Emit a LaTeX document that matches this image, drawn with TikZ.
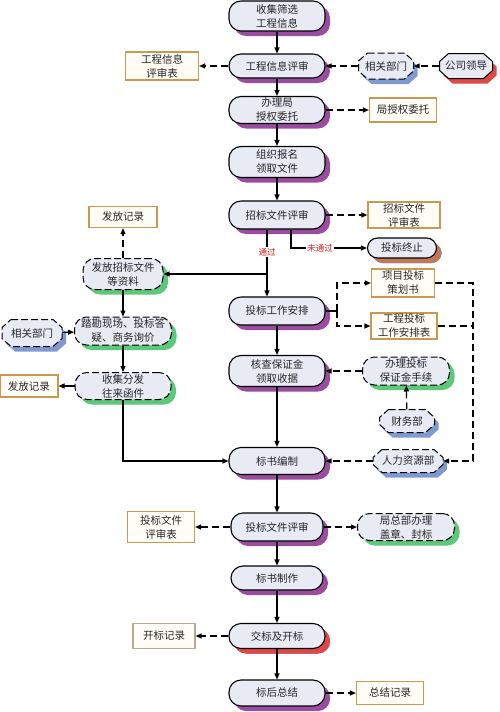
\documentclass[tikz,border=0pt]{standalone}
\usepackage{fontspec}
\newfontfamily\cjk{Noto Sans CJK SC}
\usetikzlibrary{shapes.misc,shadows,arrows.meta}
\definecolor{mainfill}{HTML}{E8EAF4}
\definecolor{purp}{HTML}{9A4C9E}
\definecolor{grn}{HTML}{5CC87A}
\definecolor{blu}{HTML}{7F9AD0}
\definecolor{redsh}{HTML}{E04848}
\definecolor{brn}{HTML}{C0785A}
\definecolor{tan}{HTML}{C89A50}
\definecolor{greyb}{HTML}{B8AA90}
\definecolor{boxfill}{HTML}{FFFDF6}
\definecolor{lbl}{HTML}{D02020}
\tikzset{
  base/.style={font=\cjk\fontsize{10.5}{14}\selectfont, text=black!85, align=center, inner sep=1pt},
  mainbox/.style={base, rectangle, rounded corners=12pt, draw, line width=1.1pt, fill=mainfill,
    minimum width=96pt, minimum height=27pt,
    drop shadow={shadow xshift=5pt, shadow yshift=-5pt, fill=purp, opacity=1}},
  greenbox/.style={base, rectangle, rounded corners=12pt, draw, dashed, dash pattern=on 7pt off 3pt, line width=1pt, fill=mainfill,
    minimum height=27pt,
    drop shadow={shadow xshift=5pt, shadow yshift=-5pt, fill=grn, opacity=1}},
  octtext/.style={base, rectangle, inner sep=0pt},
  octline/.style={draw, line width=1pt, fill=mainfill, line join=miter},
  octdash/.style={dash pattern=on 7pt off 3pt},
  recbox/.style={base, rectangle, draw=tan, line width=1.2pt, fill=boxfill, minimum height=24pt},
  arr/.style={line width=1.1pt, -{Triangle[length=6pt,width=5pt]}},
  darr/.style={line width=1.2pt, dash pattern=on 7pt off 4pt, -{Triangle[length=6pt,width=5pt]}},
  dline/.style={line width=1.2pt, dash pattern=on 7pt off 4pt},
  lab/.style={font=\cjk\fontsize{8.5}{10}\selectfont, text=lbl, fill=white, inner sep=1pt}
}
% octagon: #1 name, #2 x, #3 y, #4 w, #5 h, #6 shadow colour, #7 line style, #8 text
\newcommand{\octnode}[8]{%
  \fill[#6] ({#2-#4/2+9+4},{#3-#5/2+5}) -- ({#2+#4/2-9+4},{#3-#5/2+5}) -- ({#2+#4/2+4},{#3-#5/2+8+5})
    -- ({#2+#4/2+4},{#3+#5/2-8+5}) -- ({#2+#4/2-9+4},{#3+#5/2+5}) -- ({#2-#4/2+9+4},{#3+#5/2+5})
    -- ({#2-#4/2+4},{#3+#5/2-8+5}) -- ({#2-#4/2+4},{#3-#5/2+8+5}) -- cycle;
  \path[octline,#7] ({#2-#4/2+9},{#3-#5/2}) -- ({#2+#4/2-9},{#3-#5/2}) -- ({#2+#4/2},{#3-#5/2+8})
    -- ({#2+#4/2},{#3+#5/2-8}) -- ({#2+#4/2-9},{#3+#5/2}) -- ({#2-#4/2+9},{#3+#5/2})
    -- ({#2-#4/2},{#3+#5/2-8}) -- ({#2-#4/2},{#3-#5/2+8}) -- cycle;
  \node[octtext, minimum width=#4 pt, minimum height=#5 pt] (#1) at (#2,#3) {#8};}
\begin{document}
\begin{tikzpicture}[x=1pt,y=-1pt]
\useasboundingbox[fill=white] (0,0) rectangle (500,712);
% main column
\node[mainbox, minimum height=30pt] (n1) at (277,16) {收集筛选\\工程信息};
\node[mainbox, minimum height=24pt] (n2) at (277,66) {工程信息评审};
\node[mainbox, minimum height=27pt] (n3) at (277,110) {办理局\\授权委托};
\node[mainbox, minimum height=31pt] (n4) at (277,162) {组织报名\\领取文件};
\node[mainbox, minimum height=28pt] (n5) at (277,215) {招标文件评审};
\node[mainbox, minimum height=28pt] (n6) at (277,311) {投标工作安排};
\node[mainbox, minimum height=31pt] (n7) at (277,371) {核查保证金\\领取收据};
\node[mainbox, minimum height=27pt] (n8) at (277,461) {标书编制};
\node[mainbox, minimum height=28pt, minimum width=92pt] (n9) at (277,527) {投标文件评审};
\node[mainbox, minimum height=24pt, minimum width=92pt] (n10) at (277,578) {标书制作};
\node[mainbox, minimum height=25pt, drop shadow={shadow xshift=5pt, shadow yshift=-5pt, fill=redsh, opacity=1}] (n11) at (277,636) {交标及开标};
\node[mainbox, minimum height=26pt] (n12) at (277,693) {标后总结};
% side nodes
\node[recbox, minimum width=73pt, minimum height=28pt] (b1) at (162,66) {工程信息\\评审表};
\octnode{o1}{386}{66}{55}{26}{blu}{octdash}{相关部门}
\octnode{o2}{466}{66}{53}{25}{redsh}{solid}{公司领导}
\node[recbox, minimum width=67pt, minimum height=24pt] (b2) at (403,110) {局授权委托};
\node[recbox, minimum width=72pt, minimum height=26pt] (b3) at (404,215) {招标文件\\评审表};
\node[mainbox, rounded corners=10pt, minimum width=69pt, minimum height=20pt,
  drop shadow={shadow xshift=5pt, shadow yshift=-5pt, fill=brn, opacity=1}] (t1) at (402,248) {投标终止};
\node[recbox, minimum width=68pt, minimum height=21pt] (b4) at (123,217) {发放记录};
\node[greenbox, minimum width=80pt, minimum height=31pt] (g1) at (123,274) {发放招标文件\\等资料};
\node[recbox, minimum width=63pt, minimum height=28pt] (b5) at (403,283) {项目投标\\策划书};
\node[recbox, minimum width=66pt, minimum height=26pt] (b6) at (404,326) {工程投标\\工作安排表};
\octnode{o3}{32}{333}{60}{27}{blu}{octdash}{相关部门}
\node[greenbox, minimum width=97pt, minimum height=28pt] (g2) at (123,331) {踏勘现场、投标答\\疑、商务询价};
\node[recbox, minimum width=58pt, minimum height=22pt] (b7) at (29,386) {发放记录};
\node[greenbox, minimum width=96pt, minimum height=27pt] (g3) at (123,386) {收集分发\\往来函件};
\node[greenbox, minimum width=87pt, minimum height=28pt] (g4) at (406,371) {办理投标\\保证金手续};
\octnode{o4}{407}{421}{55}{23}{blu}{octdash}{财务部}
\octnode{o5}{408}{461}{70}{23}{blu}{octdash}{人力资源部}
\node[recbox, minimum width=67pt, minimum height=31pt] (b8) at (161,527) {投标文件\\评审表};
\node[greenbox, minimum width=97pt, minimum height=27pt] (g5) at (406,527) {局总部办理\\盖章、封标};
\node[recbox, draw=greyb, minimum width=62pt, minimum height=25pt] (b9) at (164,636) {开标记录};
\node[recbox, minimum width=67pt, minimum height=23pt] (b10) at (390,693) {总结记录};
% coordinates
\coordinate (br) at (267,274);
\coordinate (s) at (337,311);
\coordinate (rc) at (473,461);
% main flow
\draw[arr] (n1) -- (n2);
\draw[arr] (n2) -- (n3);
\draw[arr] (n3) -- (n4);
\draw[arr] (n4) -- (n5);
\draw[arr] ([xshift=-10pt]n5.south) -- ([xshift=-10pt]n6.north);
\draw[arr] (br) -- (g1.east |- br);
\draw[arr] ([xshift=14pt]n5.south) |- (t1.west);
\node[lab] (l1) at (267,252) {通过};
\node[lab] (l2) at (320,248) {未通过};
\draw[arr] (n6) -- (n7);
\draw[arr] (n7) -- (n8);
\draw[arr] (n8) -- (n9);
\draw[arr] (n9) -- (n10);
\draw[arr] (n10) -- (n11);
\draw[arr] (n11) -- (n12);
% dashed side arrows
\draw[darr] (n2) -- (b1);
\draw[darr] (o1) -- (n2);
\draw[darr] (o2) -- (o1);
\draw[darr] (n3) -- (b2);
\draw[darr] (n5) -- (b3);
\draw[darr] (g1) -- (b4);
% left column
\draw[arr] (g1) -- (g2);
\draw[arr] (o3) -- (g2);
\draw[arr] (g2) -- (g3);
\draw[arr] (g3) -- (b7);
\draw[arr] (g3) |- (n8);
% right side
\draw[line width=1.1pt] (n6.east) -- (s);
\draw[darr] (s) |- (b5.west);
\draw[darr] (s) |- (b6.west);
\draw[darr] (b5.east) -| (rc) -- (o5.east);
\draw[dline] (b6.east) -- (b6.east -| rc);
\draw[darr] (o5) -- (n8);
\draw[darr] (g4) -- (n7);
\draw[darr] (o4) -- (g4);
% lower
\draw[darr] (n9) -- (b8);
\draw[darr] (n9) -- (g5);
\draw[darr] (n11) -- (b9);
\draw[darr] (n12) -- (b10);
\end{tikzpicture}
\end{document}
